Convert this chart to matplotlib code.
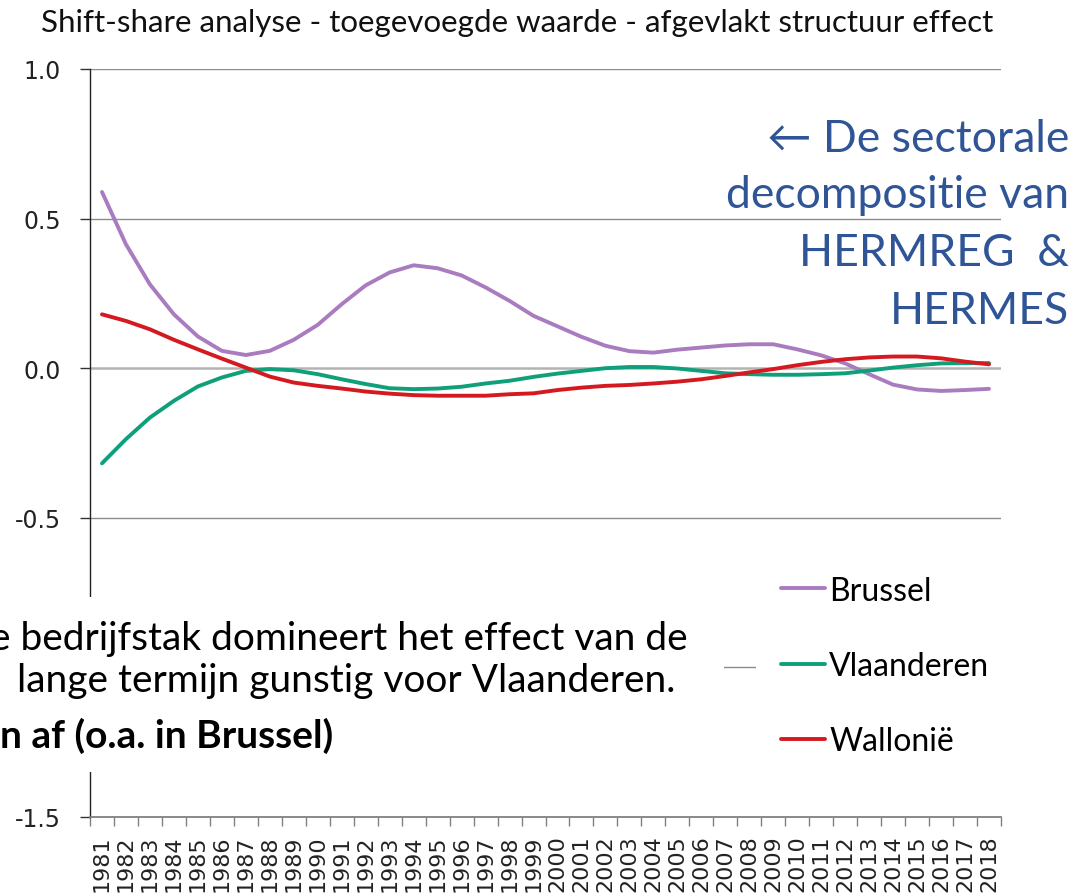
import matplotlib
matplotlib.use("Agg")
import matplotlib.pyplot as plt
from matplotlib.patches import Rectangle
import numpy as np

W, H = 1074, 895

years = list(range(1981, 2019))
brussel = [0.589, 0.414, 0.28, 0.18, 0.106, 0.058, 0.044, 0.058, 0.095, 0.145,
           0.214, 0.277, 0.32, 0.344, 0.334, 0.31, 0.27, 0.225, 0.175, 0.14,
           0.105, 0.075, 0.057, 0.052, 0.062, 0.069, 0.076, 0.08, 0.08, 0.063,
           0.043, 0.016, -0.02, -0.055, -0.071, -0.076, -0.073, -0.069]
vlaanderen = [-0.318, -0.237, -0.165, -0.109, -0.061, -0.031, -0.009, -0.003, -0.007, -0.02,
              -0.037, -0.053, -0.067, -0.07, -0.068, -0.062, -0.051, -0.042, -0.029, -0.018,
              -0.009, 0.0, 0.004, 0.004, -0.001, -0.009, -0.017, -0.02, -0.022, -0.022,
              -0.02, -0.017, -0.008, 0.002, 0.01, 0.016, 0.017, 0.017]
wallonie = [0.18, 0.158, 0.13, 0.095, 0.063, 0.032, 0.002, -0.028, -0.048, -0.059,
            -0.068, -0.078, -0.085, -0.09, -0.092, -0.092, -0.092, -0.087, -0.084, -0.073,
            -0.065, -0.059, -0.056, -0.051, -0.045, -0.037, -0.026, -0.014, -0.003, 0.01,
            0.021, 0.03, 0.036, 0.039, 0.039, 0.033, 0.022, 0.013]
series_names = ["Brussel", "Vlaanderen", "Wallonië"]
series_colors = ["#A97BBF", "#0FA07A", "#D41A20"]
y_ticks = [1.0, 0.5, 0.0, -0.5, -1.0, -1.5]
# the -1.0 label sits under the white text box in the reference
y_labels = ["1.0", "0.5", "0.0", "-0.5", "", "-1.5"]

title = "Shift-share analyse - toegevoegde waarde - afgevlakt structuur effect"
blue_lines = ["\u2190 De sectorale", "decompositie van", "HERMREG  &", "HERMES"]
black_lines = ["e bedrijfstak domineert het effect van de",
               " lange termijn gunstig voor Vlaanderen.",
               "n af (o.a. in Brussel)"]


def fx(px):
    return px / W


def fy(py):
    return 1 - py / H


fig = plt.figure(figsize=(W / 100, H / 100), dpi=100)
ax = fig.add_axes([fx(90), fy(818), fx(911), 748 / H])

x = np.arange(len(years))
lines = []
for vals, name, col in zip([brussel, vlaanderen, wallonie], series_names, series_colors):
    ln, = ax.plot(x, vals, color=col, lw=2.8, solid_capstyle="round",
                  solid_joinstyle="round", label=name, zorder=3)
    lines.append(ln)

ax.set_xlim(-0.5, len(years) - 0.5)
ax.set_ylim(-1.5, 1.0)

for v in y_ticks[:-1]:
    if v == 0.0:
        ax.axhline(v, color="#b3b3b3", lw=1.8, zorder=1)
    else:
        ax.axhline(v, color="#8c8c8c", lw=1.0, zorder=1)

for s in ["top", "right"]:
    ax.spines[s].set_visible(False)
ax.spines["left"].set_color("#222222")
ax.spines["left"].set_linewidth(1.0)
ax.spines["bottom"].set_color("#808080")
ax.spines["bottom"].set_linewidth(1.3)

ax.set_yticks(y_ticks)
ax.set_yticklabels(y_labels, fontsize=17, family="DejaVu Sans", color="#222222")
ax.tick_params(axis="y", length=7.5, width=1, color="#333333", pad=13.5)

ax.set_xticks(x)
ax.set_xticklabels([str(y) for y in years], rotation=90, fontsize=16,
                   family="DejaVu Sans", va="top", color="#222222")
ax.tick_params(axis="x", which="major", length=0, pad=12.5)
ax.set_xticks(np.arange(-0.5, len(years), 1), minor=True)
ax.tick_params(axis="x", which="minor", length=6.5, width=1, color="#808080")

leg = ax.legend(handles=lines, loc="center left",
                bbox_to_anchor=(fx(756), fy(667)), bbox_transform=fig.transFigure,
                frameon=True, fancybox=False, facecolor="white", edgecolor="none",
                framealpha=1, prop={"family": "Lato", "size": 23},
                handlelength=1.38, handletextpad=0.13, labelspacing=1.42,
                borderpad=0.78, borderaxespad=0)

fig.text(fx(517), fy(32), title, ha="center", va="baseline", fontsize=22.5,
         family="Lato", color="#111111")

blue_base = [152, 208, 266, 324]
for txt, b in zip(blue_lines, blue_base):
    fig.text(fx(1069), fy(b), txt, ha="right", va="baseline", fontsize=32,
             family=["Lato", "DejaVu Sans"], color="#2F5597", zorder=6)

fig.patches.append(Rectangle((0, fy(773)), fx(724), fy(598) - fy(773),
                             transform=fig.transFigure, facecolor="white",
                             edgecolor="none", zorder=5))
black_right = [688, 675, 333]
black_base = [650, 692, 748]
for i, (txt, r, b) in enumerate(zip(black_lines, black_right, black_base)):
    fig.text(fx(r), fy(b), txt, ha="right", va="baseline", fontsize=28,
             family="Lato", color="black", fontweight="bold" if i == 2 else "normal",
             zorder=6)

fig.savefig("out.png", dpi=100)
